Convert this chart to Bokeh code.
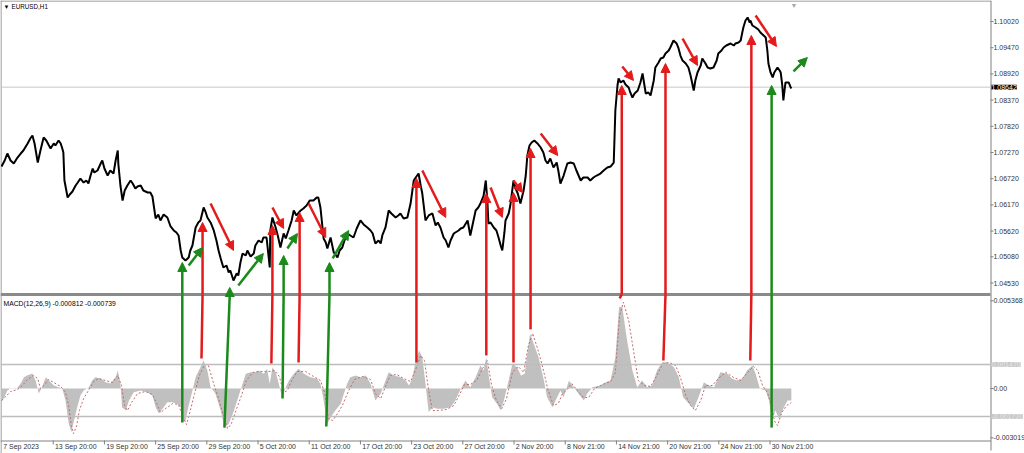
from bokeh.plotting import figure
from bokeh.models import Range1d, Arrow, NormalHead, Label
from bokeh.core.properties import value
from bokeh.embed import file_html
from bokeh.resources import INLINE

# ---------------- data ----------------
symbol_title = "EURUSD,H1"
macd_title = "MACD(12,26,9) -0.000812 -0.000739"
current_price = 1.08642

price_ticks = [1.10020, 1.09470, 1.08920, 1.08370, 1.07820, 1.07270,
               1.06720, 1.06170, 1.05620, 1.05080, 1.04530]
macd_ticks = [0.005368, 0.0, -0.003019]
macd_tick_labels = ["0.005368", "0.00", "-0.003019"]
macd_levels = [0.001470, -0.001720]

time_ticks = [0, 97, 193, 289, 385, 481, 577, 673, 769, 865, 961, 1057, 1153, 1249, 1345, 1441]
time_labels = ["7 Sep 2023", "13 Sep 20:00", "19 Sep 20:00", "25 Sep 20:00", "29 Sep 20:00",
               "5 Oct 20:00", "11 Oct 20:00", "17 Oct 20:00", "23 Oct 20:00", "27 Oct 20:00",
               "2 Nov 20:00", "8 Nov 21:00", "14 Nov 21:00", "20 Nov 21:00", "24 Nov 21:00",
               "30 Nov 21:00"]

# price (bar index, close)
price_bar = [
    0, 6, 11, 17, 23, 30, 36, 41, 49, 54,
    58, 62, 68, 73, 79, 84, 92, 98, 101, 107,
    111, 114, 116, 118, 124, 128, 133, 139, 143, 148,
    154, 159, 163, 167, 171, 174, 180, 186, 189, 193,
    199, 204, 210, 214, 218, 219, 223, 227, 231, 236,
    242, 246, 251, 255, 261, 266, 274, 279, 283, 289,
    294, 298, 304, 311, 317, 323, 328, 332, 336, 339,
    345, 351, 354, 358, 364, 369, 373, 379, 383, 386,
    392, 398, 403, 407, 411, 416, 422, 426, 429, 435,
    441, 444, 448, 452, 458, 461, 467, 473, 476, 482,
    488, 491, 497, 503, 504, 508, 514, 518, 523, 529,
    533, 538, 544, 548, 553, 561, 566, 572, 578, 585,
    591, 594, 598, 604, 608, 611, 617, 623, 626, 630,
    634, 639, 643, 649, 654, 660, 666, 673, 679, 686,
    692, 696, 701, 707, 711, 714, 720, 726, 731, 739,
    744, 748, 754, 761, 767, 773, 778, 782, 786, 789,
    795, 801, 808, 814, 818, 823, 829, 833, 838, 842,
    848, 851, 857, 861, 866, 874, 879, 883, 889, 894,
    898, 904, 908, 911, 913, 917, 923, 928, 932, 936,
    939, 943, 945, 951, 954, 960, 964, 968, 973, 979,
    983, 986, 990, 994, 999, 1005, 1011, 1016, 1020, 1024,
    1029, 1035, 1041, 1044, 1048, 1054, 1061, 1067, 1073, 1078,
    1086, 1091, 1099, 1104, 1110, 1116, 1123, 1129, 1136, 1142,
    1148, 1151, 1155, 1157, 1161, 1166, 1170, 1176, 1179, 1183,
    1187, 1193, 1198, 1202, 1208, 1213, 1217, 1223, 1226, 1232,
    1236, 1241, 1245, 1251, 1254, 1260, 1266, 1269, 1273, 1277,
    1283, 1288, 1292, 1298, 1301, 1305, 1311, 1314, 1320, 1324,
    1329, 1335, 1341, 1344, 1350, 1354, 1359, 1367, 1373, 1376,
    1382, 1386, 1389, 1391, 1395, 1399, 1403, 1404, 1408, 1414,
    1419, 1423, 1429, 1433, 1436, 1438, 1442, 1446, 1449, 1455,
    1459, 1461, 1464, 1466, 1470, 1476, 1479, 1481,
]
price_val = [
    1.06976, 1.07102, 1.07249, 1.07102, 1.07039, 1.07165, 1.07249, 1.07312, 1.07459, 1.07564,
    1.07627, 1.07459, 1.07060, 1.07312, 1.07585, 1.07522, 1.07354, 1.07459, 1.07417, 1.07522,
    1.07459, 1.07354, 1.07270, 1.06682, 1.06325, 1.06388, 1.06451, 1.06577, 1.06640, 1.06724,
    1.06640, 1.06682, 1.06619, 1.06787, 1.06934, 1.06850, 1.06892, 1.07039, 1.07102, 1.06934,
    1.06787, 1.06892, 1.06829, 1.07102, 1.07312, 1.07039, 1.06577, 1.06262, 1.06472, 1.06577,
    1.06682, 1.06619, 1.06514, 1.06556, 1.06577, 1.06472, 1.06430, 1.06430, 1.06346, 1.05885,
    1.05969, 1.05843, 1.05969, 1.05906, 1.05717, 1.05633, 1.05591, 1.05528, 1.05213, 1.05066,
    1.05003, 1.05066, 1.05213, 1.05318, 1.05696, 1.05801, 1.05843, 1.06116, 1.06011, 1.05906,
    1.05801, 1.05633, 1.05423, 1.05213, 1.05045, 1.04856, 1.04898, 1.04751, 1.04793, 1.04583,
    1.04730, 1.04688, 1.04961, 1.05150, 1.05108, 1.05213, 1.05087, 1.05150, 1.05318, 1.05423,
    1.05381, 1.05486, 1.05486, 1.04856, 1.05633, 1.05906, 1.05696, 1.05528, 1.05276, 1.05570,
    1.05465, 1.05633, 1.05843, 1.06053, 1.05948, 1.06053, 1.06095, 1.06157, 1.06262, 1.06262,
    1.06325, 1.06325, 1.06116, 1.05465, 1.05381, 1.05255, 1.05486, 1.05171, 1.05129, 1.05066,
    1.05213, 1.05276, 1.05423, 1.05570, 1.05528, 1.05486, 1.05675, 1.05843, 1.05759, 1.05696,
    1.05633, 1.05570, 1.05360, 1.05423, 1.05360, 1.05528, 1.05696, 1.06053, 1.05990, 1.05906,
    1.05948, 1.05990, 1.05885, 1.05906, 1.06199, 1.06682, 1.06766, 1.06829, 1.06577, 1.06409,
    1.05843, 1.05948, 1.05990, 1.05738, 1.05801, 1.05696, 1.05486, 1.05423, 1.05276, 1.05423,
    1.05570, 1.05591, 1.05633, 1.05675, 1.05696, 1.05843, 1.05528, 1.05738, 1.06053, 1.06116,
    1.06199, 1.06367, 1.06682, 1.06262, 1.05780, 1.05801, 1.05696, 1.05633, 1.05486, 1.05318,
    1.05213, 1.05591, 1.05843, 1.05990, 1.06157, 1.06682, 1.06514, 1.06409, 1.06199, 1.06472,
    1.06787, 1.07207, 1.07417, 1.07480, 1.07522, 1.07459, 1.07375, 1.07270, 1.07102, 1.07039,
    1.07144, 1.06955, 1.07060, 1.06892, 1.06619, 1.06787, 1.07039, 1.07060, 1.07039, 1.06892,
    1.06682, 1.06745, 1.06745, 1.06682, 1.06745, 1.06787, 1.06829, 1.06892, 1.06955, 1.06976,
    1.07060, 1.08152, 1.08677, 1.08824, 1.08740, 1.08782, 1.08698, 1.08635, 1.08530, 1.08425,
    1.08509, 1.08572, 1.08740, 1.08929, 1.08509, 1.08530, 1.08467, 1.08782, 1.09055, 1.09160,
    1.09243, 1.09264, 1.09348, 1.09411, 1.09474, 1.09621, 1.09558, 1.09474, 1.09306, 1.09201,
    1.09139, 1.09055, 1.08887, 1.08572, 1.08782, 1.08950, 1.09097, 1.09243, 1.09139, 1.09055,
    1.09034, 1.09055, 1.09201, 1.09348, 1.09411, 1.09474, 1.09516, 1.09558, 1.09516, 1.09558,
    1.09579, 1.09621, 1.09789, 1.09894, 1.10041, 1.10104, 1.09999, 1.10041, 1.09936, 1.09894,
    1.09852, 1.09789, 1.09726, 1.09684, 1.09411, 1.09139, 1.08950, 1.08845, 1.08950, 1.09055,
    1.08992, 1.08950, 1.08677, 1.08362, 1.08740, 1.08740, 1.08656, 1.08614,
]

# MACD histogram (bar index, value)
hist_bar = [
    0, 4, 11, 17, 29, 36, 42, 48, 58, 64,
    70, 76, 83, 89, 98, 107, 114, 120, 126, 131,
    136, 142, 148, 154, 164, 170, 176, 186, 195, 204,
    214, 218, 223, 226, 233, 239, 248, 261, 273, 283,
    289, 295, 304, 311, 320, 329, 336, 339, 345, 351,
    358, 364, 373, 379, 386, 392, 401, 411, 418, 426,
    436, 442, 448, 458, 467, 476, 482, 492, 498, 503,
    508, 514, 520, 526, 533, 539, 548, 557, 567, 579,
    592, 598, 603, 611, 617, 626, 636, 648, 654, 664,
    673, 683, 692, 701, 711, 720, 726, 736, 748, 758,
    764, 770, 776, 783, 789, 795, 801, 808, 817, 829,
    842, 851, 861, 870, 879, 889, 898, 904, 909, 914,
    920, 929, 936, 942, 948, 958, 967, 974, 981, 991,
    998, 1007, 1017, 1023, 1033, 1039, 1048, 1054, 1064, 1073,
    1082, 1092, 1098, 1108, 1123, 1133, 1142, 1151, 1158, 1164,
    1173, 1183, 1192, 1201, 1211, 1220, 1229, 1239, 1248, 1261,
    1270, 1278, 1289, 1298, 1307, 1317, 1326, 1336, 1348, 1361,
    1370, 1379, 1389, 1398, 1408, 1414, 1422, 1433, 1439, 1445,
    1451, 1458, 1467, 1474, 1481,
]
hist_val = [
    -0.000841, -0.000614, -0.000123, 0.000020, 0.000020, 0.000307, 0.000693, 0.000798, 0.000920, 0.000491,
    -0.000307, 0.000080, 0.000693, 0.000491, 0.000184, 0.000080, -0.000020, -0.000736, -0.002147, -0.002681,
    -0.001963, -0.001147, -0.000429, -0.000123, 0.000080, 0.000491, 0.000693, 0.000614, 0.000387, 0.000307,
    0.000693, 0.001104, 0.000307, -0.001147, -0.001350, -0.000736, -0.000227, -0.000123, -0.000227, -0.000429,
    -0.001147, -0.001534, -0.001147, -0.000841, -0.000841, -0.000939, -0.001147, -0.002067, -0.001963, -0.001043,
    -0.000123, 0.000693, 0.001307, 0.001718, 0.001104, 0.000080, -0.000307, -0.001350, -0.002374, -0.002166,
    -0.001350, -0.000736, -0.000123, 0.000902, 0.001000, 0.001000, 0.001104, 0.000902, 0.001209, 0.000288,
    0.001307, 0.001000, 0.000288, -0.000534, 0.000080, 0.000491, 0.000902, 0.001209, 0.000902, 0.000693,
    0.000595, 0.000288, -0.000534, -0.002166, -0.001761, -0.001350, -0.000939, 0.000288, 0.000693, 0.000798,
    0.000693, 0.000798, 0.000288, -0.000736, -0.000325, 0.000491, 0.001000, 0.000798, 0.000693, 0.000491,
    0.000184, 0.000595, 0.001614, 0.002331, 0.001920, 0.000288, -0.001454, -0.001147, -0.001245, -0.001245,
    -0.001147, -0.000736, -0.000018, 0.000491, 0.000080, 0.000693, 0.001411, 0.001104, 0.001920, 0.000693,
    -0.000534, -0.000939, -0.001350, -0.000736, 0.000080, 0.001515, 0.001307, 0.000798, 0.000902, 0.003356,
    0.002742, 0.001920, 0.000491, -0.000534, -0.001147, -0.000736, -0.000123, -0.000534, 0.000491, 0.000080,
    -0.000325, -0.000736, -0.000325, 0.000080, 0.000184, 0.000387, 0.000491, 0.001920, 0.004988, 0.004988,
    0.002945, 0.001104, 0.000080, 0.000491, 0.000080, 0.000184, 0.001104, 0.001614, 0.001614, 0.001307,
    0.000693, -0.000534, -0.000939, -0.001245, -0.000534, 0.000387, 0.000184, 0.000080, 0.001000, 0.000902,
    0.000595, 0.000491, 0.000595, 0.001104, 0.001411, 0.000902, -0.000018, -0.000123, -0.000736, -0.001963,
    -0.001350, -0.001859, -0.001147, -0.000736, -0.000736,
]

# MACD signal line (bar index, value)
sig_bar = [
    0, 8, 17, 30, 39, 49, 60, 68, 73, 81,
    88, 98, 111, 120, 126, 131, 135, 141, 146, 154,
    163, 173, 182, 195, 208, 218, 225, 231, 236, 244,
    255, 270, 283, 293, 298, 308, 321, 332, 339, 347,
    354, 362, 371, 381, 388, 396, 407, 416, 424, 431,
    441, 450, 459, 471, 484, 495, 504, 512, 521, 529,
    536, 544, 555, 570, 585, 598, 606, 613, 621, 630,
    639, 651, 662, 677, 692, 701, 711, 720, 729, 741,
    754, 767, 776, 786, 793, 801, 808, 819, 834, 848,
    857, 868, 879, 891, 902, 911, 919, 928, 938, 947,
    958, 969, 979, 988, 996, 1005, 1014, 1024, 1035, 1044,
    1052, 1059, 1069, 1080, 1091, 1101, 1112, 1127, 1142, 1151,
    1159, 1166, 1176, 1185, 1194, 1206, 1217, 1228, 1239, 1251,
    1264, 1273, 1283, 1292, 1301, 1311, 1320, 1333, 1344, 1358,
    1373, 1386, 1399, 1410, 1418, 1427, 1436, 1444, 1449, 1455,
    1463, 1472, 1481,
]
sig_val = [
    -0.000736, -0.000491, -0.000184, -0.000061, 0.000184, 0.000552, 0.000798, 0.000614, 0.000000, 0.000245,
    0.000552, 0.000368, 0.000123, -0.000245, -0.001043, -0.002270, -0.002761, -0.002270, -0.001350, -0.000614,
    -0.000123, 0.000429, 0.000614, 0.000491, 0.000368, 0.000798, 0.000184, -0.001043, -0.001350, -0.000859,
    -0.000307, -0.000184, -0.000368, -0.001043, -0.001472, -0.001227, -0.000920, -0.000982, -0.001656, -0.002209,
    -0.001350, -0.000307, 0.000798, 0.001472, 0.001411, 0.000491, -0.000614, -0.001656, -0.002454, -0.002147,
    -0.001227, -0.000429, 0.000491, 0.000982, 0.001043, 0.001043, 0.001043, 0.001104, 0.000736, -0.000245,
    -0.000123, 0.000491, 0.001043, 0.001043, 0.000736, 0.000491, -0.000245, -0.001841, -0.001963, -0.001534,
    -0.001043, -0.000123, 0.000552, 0.000736, 0.000552, -0.000307, -0.000614, 0.000123, 0.000798, 0.000859,
    0.000614, 0.000429, 0.001104, 0.002025, 0.001718, -0.000123, -0.001350, -0.001350, -0.001288, -0.001043,
    -0.000491, 0.000245, 0.000245, 0.000491, 0.001227, 0.001718, 0.000184, -0.000736, -0.001227, -0.000614,
    0.000982, 0.001350, 0.000982, 0.002638, 0.003374, 0.002454, 0.001411, 0.000000, -0.001043, -0.000920,
    -0.000307, -0.000123, 0.000307, -0.000123, -0.000552, -0.000552, 0.000000, 0.000245, 0.000429, 0.000982,
    0.004479, 0.005276, 0.004172, 0.002331, 0.000491, 0.000184, 0.000123, 0.000736, 0.001472, 0.001595,
    0.001411, 0.000675, -0.000429, -0.001043, -0.001350, -0.000736, 0.000184, 0.000184, 0.000614, 0.000982,
    0.000675, 0.000491, 0.000982, 0.001350, 0.001104, 0.000184, -0.000245, -0.001043, -0.001963, -0.002270,
    -0.001472, -0.001043, -0.000859,
]

# long arrows: start in MACD pane, head in the price pane
green_long_bar_macd = [339, 418, 527, 609, 1444]
green_long_macd_from = [-0.002086, -0.002393, -0.000613, -0.002331, -0.002393]
green_long_bar_price = [339, 428, 529, 615, 1444]
green_long_price_tip = [1.04961, 1.04436, 1.05108, 1.04961, 1.08677]

red_long_bar_macd = [375, 506, 557, 778, 909, 960, 992, 1159, 1241, 1404]
red_long_macd_from = [0.001840, 0.001534, 0.001595, 0.001595, 0.002025, 0.001595, 0.003620, 0.005521, 0.001718, 0.001718]
red_long_bar_price = [377, 508, 559, 778, 909, 960, 992, 1163, 1245, 1406]
red_long_price_tip = [1.05801, 1.05738, 1.06011, 1.06724, 1.06409, 1.06430, 1.07354, 1.08677, 1.09139, 1.09726]

# short diagonal arrows in the price pane
green_diag_x0 = [351, 444, 536, 621, 1485]
green_diag_y0 = [1.04898, 1.04478, 1.05255, 1.05045, 1.08971]
green_diag_x1 = [377, 491, 555, 651, 1511]
green_diag_y1 = [1.05276, 1.05150, 1.05570, 1.05633, 1.09264]

red_diag_x0 = [392, 508, 576, 789, 917, 960, 1011, 1164, 1277, 1414]
red_diag_y0 = [1.06199, 1.06116, 1.06199, 1.06892, 1.06535, 1.06682, 1.07669, 1.09076, 1.09663, 1.10146]
red_diag_x1 = [435, 529, 608, 833, 939, 977, 1043, 1185, 1305, 1453]
red_diag_y1 = [1.05213, 1.05675, 1.05486, 1.05906, 1.05906, 1.06430, 1.07207, 1.08782, 1.09097, 1.09495]

# ---------------- layout (pixels of the canvas) ----------------
FONT = "Liberation Sans"
FS = "7px"
RED = "#e31b1b"
GREEN = "#1a8a1a"
BORDER = "#808080"
TXT = "#333333"

W, H = 1024, 453
XB_PX = 990              # right border of plotting area
PB_PX = 292              # bottom of price pane
MT_PX, MB_PX = 296, 440  # top / bottom of MACD pane

X0, XR = -1.875, 1854.4  # bar index at left edge / right border
P1, P0 = 1.10461, 1.04331   # price at top edge / bottom of price pane
M1, M0 = 0.005632, -0.003183  # MACD at top / bottom of MACD pane

bpp = (XR - X0) / XB_PX
pp = (P1 - P0) / PB_PX
mp = (M1 - M0) / (MB_PX - MT_PX)


def xpx(px):
    return X0 + px * bpp


def ppx(py):
    return P1 - py * pp


def mpx(py):
    return M1 - (py - MT_PX) * mp


p = figure(frame_width=W, frame_height=H, x_range=Range1d(X0, xpx(W)),
           y_range=Range1d(ppx(H), P1), output_backend="svg", toolbar_location=None,
           x_axis_location=None, y_axis_location=None, min_border=0)
p.extra_y_ranges = {"macd": Range1d(mpx(H), mpx(0))}
p.grid.visible = False
p.outline_line_color = None
p.background_fill_color = "white"
p.border_fill_color = "white"

# ---- borders ----
p.segment(x0=[xpx(0.5), X0, xpx(XB_PX + 0.5), X0],
          y0=[P1, ppx(0.5), P1, ppx(MB_PX + 0.5)],
          x1=[xpx(0.5), xpx(XB_PX + 0.5), xpx(XB_PX + 0.5), xpx(XB_PX + 0.5)],
          y1=[ppx(H), ppx(0.5), ppx(H - 3), ppx(MB_PX + 0.5)],
          line_color=BORDER, line_width=1)
p.segment(x0=[X0], y0=[ppx(PB_PX + 2)], x1=[xpx(XB_PX)], y1=[ppx(PB_PX + 2)],
          line_color="#8a8a8a", line_width=3)

# ---- price pane ----
p.segment(x0=[X0], y0=[current_price], x1=[XR], y1=[current_price],
          line_color="#c8c8c8", line_width=1)
p.line(price_bar, price_val, line_color="black", line_width=2)

p.segment(x0=[XR] * len(price_ticks), y0=price_ticks, x1=[xpx(XB_PX + 3)] * len(price_ticks),
          y1=price_ticks, line_color=BORDER)
p.text(x=[xpx(XB_PX + 3)] * len(price_ticks), y=price_ticks,
       text=[f"{t:.5f}" for t in price_ticks], text_font=value(FONT), text_font_size=FS,
       text_color=TXT, text_baseline="middle", text_align="left")
p.add_layout(Label(x=XR, y=current_price, x_offset=1, text=f"{current_price:.5f}",
                   text_font=FONT, text_font_size=FS, text_color="white",
                   text_baseline="middle", background_fill_color="black"))

p.add_layout(Label(x=X0, y=P1, x_offset=3, y_offset=-3, text="▼", text_font_size="6px",
                   text_color="black", text_baseline="top"))
p.add_layout(Label(x=X0, y=P1, x_offset=11, y_offset=-2, text=symbol_title, text_font=FONT,
                   text_font_size="6.3px", text_color="black", text_baseline="top"))
p.add_layout(Label(x=1485, y=P1, x_offset=-3, y_offset=-1, text="▼", text_font_size="7px",
                   text_color="#a8a8a8", text_baseline="top"))

# ---- MACD pane ----
p.varea(x=hist_bar, y1=0, y2=hist_val, fill_color="#c0c0c0", y_range_name="macd")
p.line(sig_bar, sig_val, line_color="#c26a6a", line_width=1, line_dash="2 2",
       y_range_name="macd")
for lv in macd_levels:
    p.segment(x0=[X0], y0=[lv], x1=[XR], y1=[lv], line_color="#bdbdbd", line_width=1.5,
              y_range_name="macd")
    p.add_layout(Label(x=XR, y=lv, x_offset=1, text=f"{lv:.6f}", text_font=FONT,
                       text_font_size=FS, text_color="#e6e6e6", text_baseline="middle",
                       background_fill_color="#c8c8c8", y_range_name="macd"))
p.segment(x0=[XR] * len(macd_ticks), y0=macd_ticks, x1=[xpx(XB_PX + 3)] * len(macd_ticks),
          y1=macd_ticks, line_color=BORDER, y_range_name="macd")
p.text(x=[xpx(XB_PX + 3)] * len(macd_ticks), y=macd_ticks, text=macd_tick_labels,
       text_font=value(FONT), text_font_size=FS, text_color=TXT, text_baseline="middle",
       text_align="left", y_range_name="macd")
p.add_layout(Label(x=X0, y=M1, x_offset=3, y_offset=-3, text=macd_title, text_font=FONT,
                   text_font_size="6.8px", text_color="black", text_baseline="top",
                   y_range_name="macd"))

# ---- time axis ----
p.segment(x0=time_ticks[1:], y0=[mpx(MB_PX)] * (len(time_ticks) - 1), x1=time_ticks[1:],
          y1=[mpx(MB_PX + 4)] * (len(time_ticks) - 1), line_color=BORDER, y_range_name="macd")
p.text(x=[t + 1.7 * bpp for t in time_ticks], y=[mpx(MB_PX + 2)] * len(time_ticks),
       text=time_labels, text_font=value(FONT), text_font_size=FS, text_color=TXT,
       text_baseline="top", text_align="left", y_range_name="macd")

# ---- arrows ----
SEP = PB_PX + 2
p.segment(x0=green_long_bar_macd, y0=green_long_macd_from, x1=green_long_bar_price,
          y1=[mpx(SEP)] * len(green_long_bar_price), line_color=GREEN, line_width=2.5,
          y_range_name="macd")
p.segment(x0=red_long_bar_macd, y0=red_long_macd_from, x1=red_long_bar_price,
          y1=[mpx(SEP)] * len(red_long_bar_price), line_color=RED, line_width=2.5,
          y_range_name="macd")


def arrow(c, xs, ys, xe, ye):
    p.add_layout(Arrow(end=NormalHead(size=9, fill_color=c, line_color=c, line_width=1),
                       x_start=xs, y_start=ys, x_end=xe, y_end=ye,
                       line_color=c, line_width=2.5))


for xb, yt in zip(green_long_bar_price, green_long_price_tip):
    arrow(GREEN, xb, ppx(SEP), xb, yt)
for xb, yt in zip(red_long_bar_price, red_long_price_tip):
    arrow(RED, xb, ppx(SEP), xb, yt)
for a, b, c, d in zip(green_diag_x0, green_diag_y0, green_diag_x1, green_diag_y1):
    arrow(GREEN, a, b, c, d)
for a, b, c, d in zip(red_diag_x0, red_diag_y0, red_diag_x1, red_diag_y1):
    arrow(RED, a, b, c, d)

open("out.html", "w").write(file_html(p, INLINE))
